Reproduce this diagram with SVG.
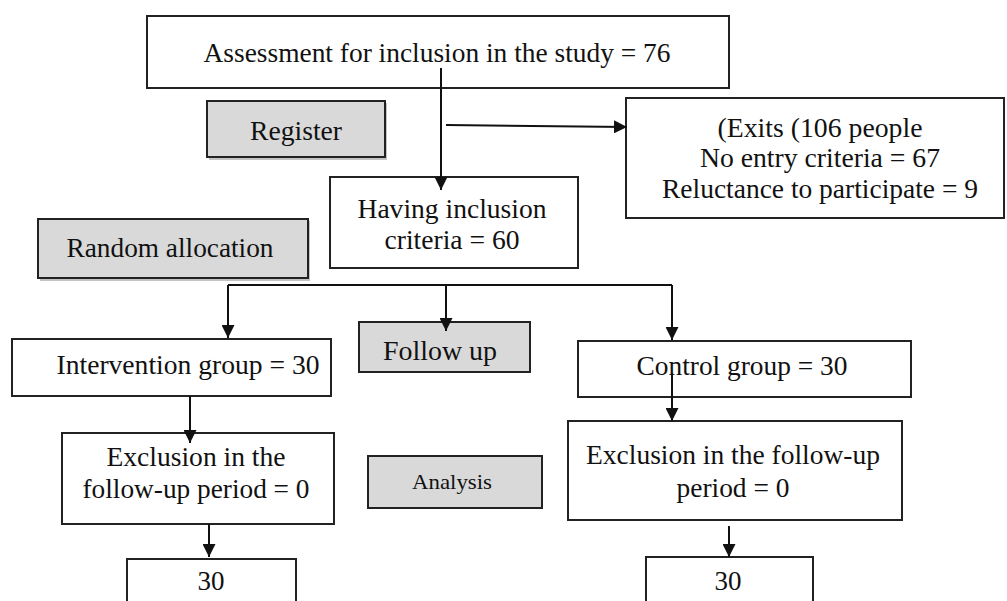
<svg xmlns="http://www.w3.org/2000/svg" width="1007" height="601" viewBox="0 0 1007 601">
<defs>
<marker id="ah" markerUnits="userSpaceOnUse" markerWidth="13" markerHeight="13" refX="13" refY="6.5" orient="auto">
<path d="M0,0 L13,6.5 L0,13 z" fill="#111"/>
</marker>
<style>
.box{fill:#fff;stroke:#222;stroke-width:2}
.gbox{fill:#d9d9d9;stroke:#222;stroke-width:2}
.shadow{fill:#c4c4c4}
.t{font-family:'Liberation Serif','Times New Roman','DejaVu Serif',serif;font-size:27px;fill:#111;text-anchor:middle}
.s{font-size:22px}
.c{fill:none;stroke:#111;stroke-width:2}
</style>
</defs>
<rect width="1007" height="601" fill="#fff"/>

<g id="assessment">
<rect class="box" x="147" y="16" width="582" height="72"/>
<text class="t" x="437" y="62" textLength="467" lengthAdjust="spacingAndGlyphs">Assessment for inclusion in the study = 76</text>
</g>

<g id="register">
<rect class="shadow" x="209" y="103" width="178" height="57"/>
<rect class="gbox" x="207" y="101" width="178" height="56"/>
<text class="t" x="296" y="140" textLength="92" lengthAdjust="spacingAndGlyphs">Register</text>
</g>

<g id="exits">
<rect class="box" x="626" y="98" width="378" height="120"/>
<text class="t" x="820" y="137" textLength="205" lengthAdjust="spacingAndGlyphs">(Exits (106 people</text>
<text class="t" x="820" y="167" textLength="240" lengthAdjust="spacingAndGlyphs">No entry criteria = 67</text>
<text class="t" x="820" y="198" textLength="316" lengthAdjust="spacingAndGlyphs">Reluctance to participate = 9</text>
</g>

<g id="having">
<rect class="box" x="330" y="177" width="248" height="91"/>
<text class="t" x="452" y="218" textLength="189" lengthAdjust="spacingAndGlyphs">Having inclusion</text>
<text class="t" x="452" y="249" textLength="135" lengthAdjust="spacingAndGlyphs">criteria = 60</text>
</g>

<g id="random">
<rect class="shadow" x="40" y="221" width="270" height="60"/>
<rect class="gbox" x="38" y="219" width="270" height="59"/>
<text class="t" x="170" y="257" textLength="207" lengthAdjust="spacingAndGlyphs">Random allocation</text>
</g>

<g id="intervention">
<rect class="box" x="12" y="339" width="319" height="57"/>
<text class="t" x="188" y="374" textLength="263" lengthAdjust="spacingAndGlyphs">Intervention group = 30</text>
</g>

<g id="followup">
<rect class="gbox" x="359" y="322" width="171" height="50"/>
<text class="t" x="440" y="360" textLength="114" lengthAdjust="spacingAndGlyphs">Follow up</text>
</g>

<g id="control">
<rect class="box" x="578" y="341" width="333" height="56"/>
<text class="t" x="742" y="375" textLength="211" lengthAdjust="spacingAndGlyphs">Control group = 30</text>
</g>

<g id="exclusion-left">
<rect class="box" x="62" y="433" width="272" height="91"/>
<text class="t" x="196" y="466" textLength="179" lengthAdjust="spacingAndGlyphs">Exclusion in the</text>
<text class="t" x="196" y="498" textLength="227" lengthAdjust="spacingAndGlyphs">follow-up period = 0</text>
</g>

<g id="analysis">
<rect class="gbox" x="368" y="456" width="174" height="52"/>
<text class="t s" x="452" y="489" textLength="80" lengthAdjust="spacingAndGlyphs">Analysis</text>
</g>

<g id="exclusion-right">
<rect class="box" x="568" y="421" width="334" height="99"/>
<text class="t" x="733" y="464" textLength="294" lengthAdjust="spacingAndGlyphs">Exclusion in the follow-up</text>
<text class="t" x="733" y="497" textLength="113" lengthAdjust="spacingAndGlyphs">period = 0</text>
</g>

<g id="result-left">
<rect class="box" x="127" y="559" width="169" height="60"/>
<text class="t" x="211" y="590" textLength="27" lengthAdjust="spacingAndGlyphs">30</text>
</g>

<g id="result-right">
<rect class="box" x="646" y="557" width="167" height="62"/>
<text class="t" x="728" y="590" textLength="27" lengthAdjust="spacingAndGlyphs">30</text>
</g>

<g id="connectors">
<path class="c" d="M441 68 V190" marker-end="url(#ah)"/>
<path class="c" d="M446 125 L627 127" marker-end="url(#ah)"/>
<path class="c" d="M228 285 H672"/>
<path class="c" d="M228 285 V338" marker-end="url(#ah)"/>
<path class="c" d="M446 285 V331" marker-end="url(#ah)"/>
<path class="c" d="M672 285 V340" marker-end="url(#ah)"/>
<path class="c" d="M190 396 V443" marker-end="url(#ah)"/>
<path class="c" d="M672 373 V421" marker-end="url(#ah)"/>
<path class="c" d="M209 524 V557" marker-end="url(#ah)"/>
<path class="c" d="M729 526 V557" marker-end="url(#ah)"/>
</g>
</svg>
